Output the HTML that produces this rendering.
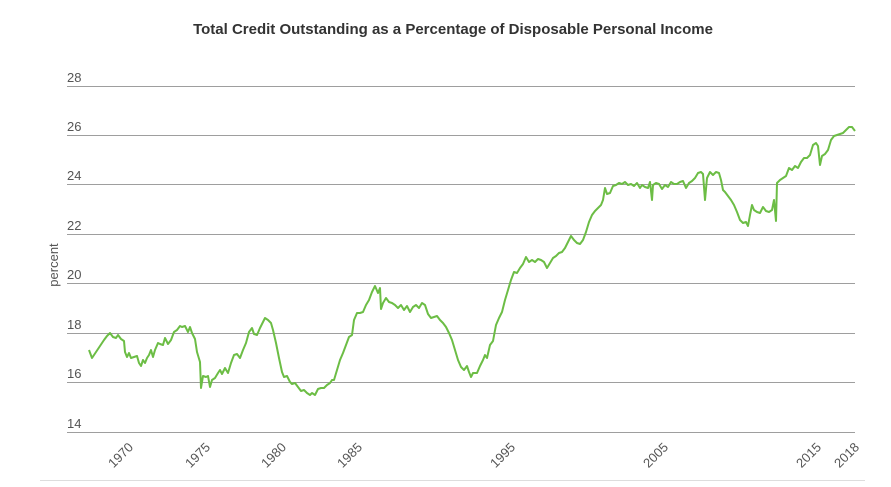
<!DOCTYPE html>
<html><head><meta charset="utf-8"><style>
html,body{margin:0;padding:0;background:#fff;width:891px;height:487px;overflow:hidden}
svg{display:block;font-family:"Liberation Sans",sans-serif}
</style></head><body>
<svg width="891" height="487" viewBox="0 0 891 487">
<text x="453" y="34" text-anchor="middle" font-size="15" font-weight="bold" fill="#333">Total Credit Outstanding as a Percentage of Disposable Personal Income</text>
<g stroke="#9e9e9e" stroke-width="1">
<line x1="67" x2="855" y1="86.5" y2="86.5"/><line x1="67" x2="855" y1="135.5" y2="135.5"/>
<line x1="67" x2="855" y1="184.5" y2="184.5"/><line x1="67" x2="855" y1="234.5" y2="234.5"/>
<line x1="67" x2="855" y1="283.5" y2="283.5"/><line x1="67" x2="855" y1="333.5" y2="333.5"/>
<line x1="67" x2="855" y1="382.5" y2="382.5"/><line x1="67" x2="855" y1="432.5" y2="432.5"/>
</g>
<line x1="40" x2="865" y1="480.5" y2="480.5" stroke="#ddd"/>
<g font-size="13" fill="#555">
<text x="67" y="82">28</text><text x="67" y="131">26</text><text x="67" y="180">24</text>
<text x="67" y="230">22</text><text x="67" y="279">20</text><text x="67" y="329">18</text>
<text x="67" y="378">16</text><text x="67" y="428">14</text>
</g>
<text transform="translate(58,265) rotate(-90)" text-anchor="middle" font-size="13" fill="#555">percent</text>
<g font-size="13" fill="#555" text-anchor="end">
<text transform="translate(134,448) rotate(-45)">1970</text>
<text transform="translate(211,448) rotate(-45)">1975</text>
<text transform="translate(287,448) rotate(-45)">1980</text>
<text transform="translate(363,448) rotate(-45)">1985</text>
<text transform="translate(516,448) rotate(-45)">1995</text>
<text transform="translate(669,448) rotate(-45)">2005</text>
<text transform="translate(822,448) rotate(-45)">2015</text>
<text transform="translate(860,448) rotate(-45)">2018</text>
</g>
<polyline fill="none" stroke="#6cbd45" stroke-width="2" stroke-linejoin="round" points="89,350 92,358 96,352 100,346 104,340 107,336 110,333 113,337 116,338 118,335 121,339 124,341 125,352 127,357 129,353 131,358 134,357 137,356 139,363 141,366 143,360 145,363 147,358 149,355 151,350 153,357 155,350 158,343 160,344 163,345 165,338 168,344 171,340 174,332 177,330 180,326 182,327 185,326 188,332 190,327 192,333 195,339 197,352 200,362 201,388 203,376 206,377 208,376 210,387 212,380 215,378 218,373 220,370 222,374 225,368 228,373 231,363 234,355 237,354 240,358 243,350 246,343 249,332 252,328 254,334 257,335 260,328 263,322 265,318 268,320 271,323 273,330 276,343 279,358 282,372 284,377 287,376 290,382 292,384 295,383 298,387 301,391 304,390 307,393 310,395 312,393 315,395 318,389 321,388 324,388 327,385 330,383 332,380 334,380 337,370 340,360 343,353 346,345 349,337 352,335 354,320 357,313 360,313 363,312 366,305 369,300 372,292 375,286 378,293 380,288 381,309 383,303 386,298 389,302 392,303 395,305 398,308 401,305 404,310 407,306 410,312 413,307 416,305 419,308 422,303 425,305 428,314 431,318 434,317 437,316 440,320 443,323 446,327 449,333 452,340 455,350 458,360 461,367 464,370 467,366 469,372 471,377 473,373 477,373 480,366 483,360 485,355 487,358 490,345 493,341 496,325 499,318 502,312 505,300 508,290 511,280 514,272 517,273 520,268 523,264 526,257 529,262 532,260 535,262 538,259 541,260 544,262 547,268 550,263 553,258 556,256 559,253 562,252 565,248 568,242 571,236 574,240 577,243 580,244 583,240 586,232 589,222 592,215 595,211 598,208 601,205 603,200 605,188 607,194 610,193 613,186 616,185 619,183 622,184 625,182 628,185 631,184 634,186 637,183 640,188 642,185 645,187 648,188 650,182 652,200 653,185 656,183 659,184 662,189 665,185 668,187 671,182 674,184 677,184 680,182 683,181 686,188 689,183 692,181 695,178 698,173 701,172 703,174 705,200 707,178 710,172 713,175 716,172 719,173 721,180 723,190 725,192 728,196 731,200 734,205 737,212 740,220 743,223 746,222 748,226 750,215 752,205 754,210 757,212 760,213 763,207 766,211 769,212 772,210 774,200 776,221 777,183 780,180 783,178 786,176 789,168 792,170 795,166 798,168 801,162 804,158 807,158 810,155 813,145 816,143 818,146 820,165 822,156 825,154 828,150 831,140 834,136 837,135 840,134 843,133 846,130 849,127 852,127 855,131"/>
</svg>
</body></html>
